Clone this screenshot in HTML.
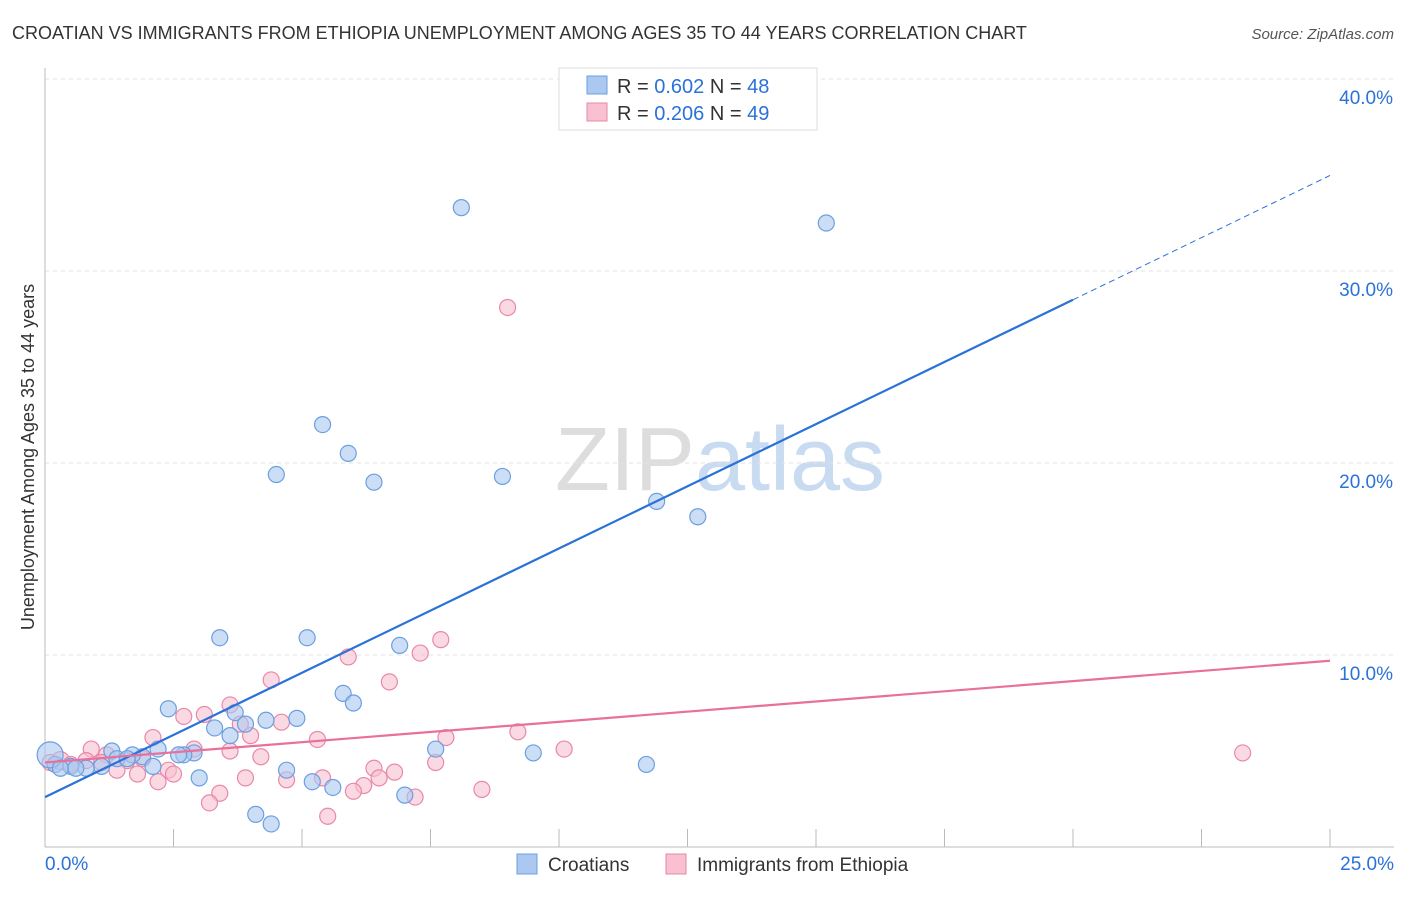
<!DOCTYPE html>
<html><head><meta charset="utf-8"><style>
body{margin:0;background:#fff;font-family:"Liberation Sans",sans-serif;}
svg text{font-family:"Liberation Sans",sans-serif;}
</style></head><body>
<svg id="chart" width="1406" height="892">
<text x="12" y="39" font-size="18" fill="#333">CROATIAN VS IMMIGRANTS FROM ETHIOPIA UNEMPLOYMENT AMONG AGES 35 TO 44 YEARS CORRELATION CHART</text>
<text x="1394" y="39" font-size="15" fill="#555" font-style="italic" text-anchor="end">Source: ZipAtlas.com</text>
<text x="720" y="490" font-size="90" fill="#ddd" text-anchor="middle" font-family="Liberation Serif">ZIP<tspan fill="#c9dbf0" font-family="Liberation Sans">atlas</tspan></text>
<g id="grid"></g>
<g id="axes"></g>
<g id="marks"></g>
<text transform="translate(34,457) rotate(-90)" font-size="18" fill="#333" text-anchor="middle">Unemployment Among Ages 35 to 44 years</text>
<g>
<rect x="559" y="68" width="258" height="62" fill="#fff" stroke="#ddd"/>
<rect x="587" y="76" width="20" height="18" fill="#aac8f0" stroke="#6a9fe0"/>
<text x="617" y="93" font-size="20" fill="#333">R = <tspan fill="#2a72d8">0.602</tspan>   N = <tspan fill="#2a72d8">48</tspan></text>
<rect x="587" y="103" width="20" height="18" fill="#f8c0d0" stroke="#e888a8"/>
<text x="617" y="120" font-size="20" fill="#333">R = <tspan fill="#2a72d8">0.206</tspan>   N = <tspan fill="#2a72d8">49</tspan></text>
</g>
<g>
<rect x="517" y="854" width="20" height="20" fill="#aac8f0" stroke="#6a9fe0"/>
<text x="548" y="871" font-size="19" fill="#333">Croatians</text>
<rect x="666" y="854" width="20" height="20" fill="#f8c0d0" stroke="#e888a8"/>
<text x="697" y="871" font-size="19" fill="#333">Immigrants from Ethiopia</text>
</g>
</svg>
<script>
const xTickLabels=["0.0%","25.0%"];
const yTicks=[10,20,30,40];
const blueX=[8.1,15.2,5.4,5.9,4.5,6.4,8.9,11.9,12.7,3.4,5.1,6.9,5.8,6.0,2.4,3.7,4.3,4.9,3.9,3.6,7.6,9.5,11.7,2.9,2.7,2.2,1.9,1.7,1.3,1.4,2.1,1.1,0.8,0.5,0.2,0.1,3.0,4.7,5.2,5.6,7.0,4.1,4.4,0.3,0.6,3.3,2.6,1.6];
const blueY=[33.3,32.5,22.0,20.5,19.4,19.0,19.3,18.0,17.2,10.9,10.9,10.5,8.0,7.5,7.2,7.0,6.6,6.7,6.4,5.8,5.1,4.9,4.3,4.9,4.8,5.1,4.7,4.8,5.0,4.6,4.2,4.2,4.1,4.2,4.3,4.8,3.6,4.0,3.4,3.1,2.7,1.7,1.2,4.1,4.1,6.2,4.8,4.6];
const pinkX=[9.0,7.7,7.3,5.9,4.4,6.7,3.6,2.7,3.1,4.6,3.8,4.0,5.3,9.2,7.8,2.1,2.9,0.9,1.2,1.6,4.2,10.1,23.3,7.6,2.4,1.8,2.5,3.9,6.4,6.8,4.7,5.4,2.2,6.5,6.2,6.0,3.4,8.5,3.2,7.2,5.5,1.4,1.1,0.8,0.3,0.1,0.5,1.9,3.6];
const pinkY=[28.1,10.8,10.1,9.9,8.7,8.6,7.4,6.8,6.9,6.5,6.4,5.8,5.6,6.0,5.7,5.7,5.1,5.1,4.8,4.5,4.7,5.1,4.9,4.4,4.0,3.8,3.8,3.6,4.1,3.9,3.5,3.6,3.4,3.6,3.2,2.9,2.8,3.0,2.3,2.6,1.6,4.0,4.4,4.5,4.5,4.4,4.3,4.6,5.0];
const blueFit=[2.6,28.5];
const pinkFit=[4.4,9.7];
const X=v=>45+v*51.4, Y=v=>847-v*19.2;
const ns="http://www.w3.org/2000/svg";
function mk(t,a,p){const e=document.createElementNS(ns,t);for(const k in a)e.setAttribute(k,a[k]);p.appendChild(e);return e;}
const grid=document.getElementById('grid'),axes=document.getElementById('axes'),marks=document.getElementById('marks');
yTicks.forEach(v=>{
const l=mk('line',{x1:45,x2:1394,y1:Y(v),y2:Y(v),stroke:'#e2e2e2','stroke-dasharray':'4,4'},grid);


const t=mk('text',{x:1393,y:Y(v)+25,'font-size':19,fill:'#2a72d8','text-anchor':'end'},axes);t.textContent=v.toFixed(1)+'%';


});
mk('line',{x1:45,x2:1394,y1:847,y2:847,stroke:'#bbb'},axes);
mk('line',{x1:45,x2:45,y1:68,y2:847,stroke:'#bbb'},axes);
for(let i=0;i<=10;i++){const x=X(i*2.5);const t=mk('line',{x1:x,x2:x,y1:829,y2:847,stroke:'#bbb'},axes);

}
const xl0=mk('text',{x:45,y:870,'font-size':19,fill:'#2a72d8'},axes);xl0.textContent=xTickLabels[0];


const xl1=mk('text',{x:1394,y:870,'font-size':19,fill:'#2a72d8','text-anchor':'end'},axes);xl1.textContent=xTickLabels[1];


function dot(x,y,f,s,r,name){const c=mk('circle',{cx:X(x),cy:Y(y),r:r,fill:f,'fill-opacity':0.6,stroke:s,'stroke-width':1.2},marks);

}
pinkX.forEach((x,i)=>dot(x,pinkY[i],'#f8c0d0','#e888a8',i==pinkX.length-5?9:8,'ethiopia-point'));
blueX.forEach((x,i)=>dot(x,blueY[i],'#aac8f0','#6a9fe0',i==35?13:8,'croatian-point'));
const slope=(blueFit[1]-blueFit[0])/20;
const bl=mk('line',{x1:X(0),y1:Y(blueFit[0]),x2:X(20),y2:Y(blueFit[1]),stroke:'#2a72d8','stroke-width':2.2},marks);


const bd=mk('line',{x1:X(20),y1:Y(blueFit[1]),x2:X(25),y2:Y(blueFit[1]+slope*5),stroke:'#2a72d8','stroke-width':1,'stroke-dasharray':'6,4'},marks);


const pl=mk('line',{x1:X(0),y1:Y(pinkFit[0]),x2:X(25),y2:Y(pinkFit[1]),stroke:'#e8709a','stroke-width':2.2},marks);


</script>
</body></html>
